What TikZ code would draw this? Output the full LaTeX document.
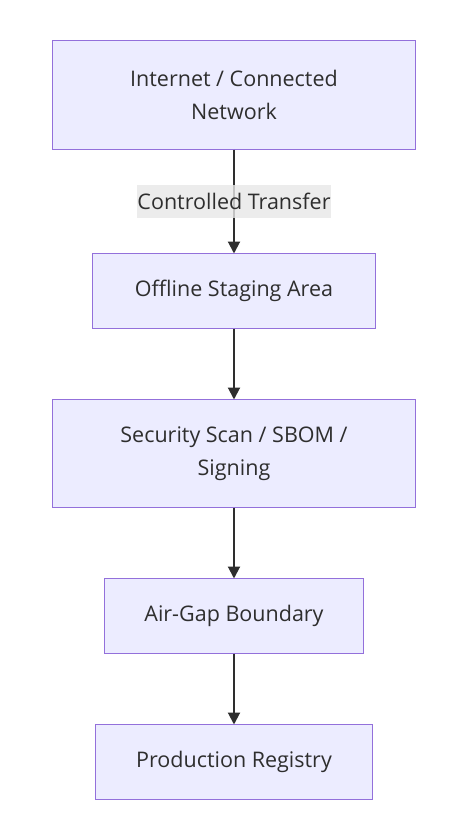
\documentclass[tikz,border=0pt]{standalone}
\usepackage{fontspec}
\setmainfont{Open Sans}
\usetikzlibrary{arrows.meta,positioning}

\definecolor{boxfill}{HTML}{ECECFF}
\definecolor{boxline}{HTML}{9370DB}
\definecolor{textgray}{HTML}{2E2E2E}
\definecolor{labelgray}{HTML}{E8E8E8}

\begin{document}
\begin{tikzpicture}[x=1pt, y=-1pt, node distance=71pt]
  \tikzset{
    stage/.style={draw=boxline, fill=boxfill, line width=1.3pt, text=textgray,
      inner sep=0pt, outer sep=0pt, align=center, font=\fontsize{21.5}{33}\selectfont},
    edgelabel/.style={fill=labelgray, fill opacity=0.8, text opacity=1, text=textgray,
      inner sep=0pt, minimum width=194pt, minimum height=33pt,
      font=\fontsize{21.5}{26}\selectfont},
    myarrow/.style={-{Triangle[length=12pt, width=12pt]}, line width=2pt, draw=textgray},
  }

  \fill[white] (0,0) rectangle (467,814);
  \useasboundingbox (0,0) rectangle (467,814);

  \node[stage, minimum width=363pt, minimum height=109pt] (inet) at (234,95) {Internet / Connected\\Network};
  \node[stage, minimum width=283pt, minimum height=75pt] (staging) [below=104pt of inet] {Offline Staging Area};
  \node[stage, minimum width=363pt, minimum height=108pt] (scan) [below=of staging] {Security Scan / SBOM /\\Signing};
  \node[stage, minimum width=259pt, minimum height=75pt] (airgap) [below=of scan] {Air-Gap Boundary};
  \node[stage, minimum width=277pt, minimum height=75pt] (registry) [below=of airgap] {Production Registry};

  \draw[myarrow] (inet) -- node[edgelabel] (transfer) {Controlled Transfer} (staging);
  \draw[myarrow] (staging) -- (scan);
  \draw[myarrow] (scan) -- (airgap);
  \draw[myarrow] (airgap) -- (registry);

\end{tikzpicture}
\end{document}
